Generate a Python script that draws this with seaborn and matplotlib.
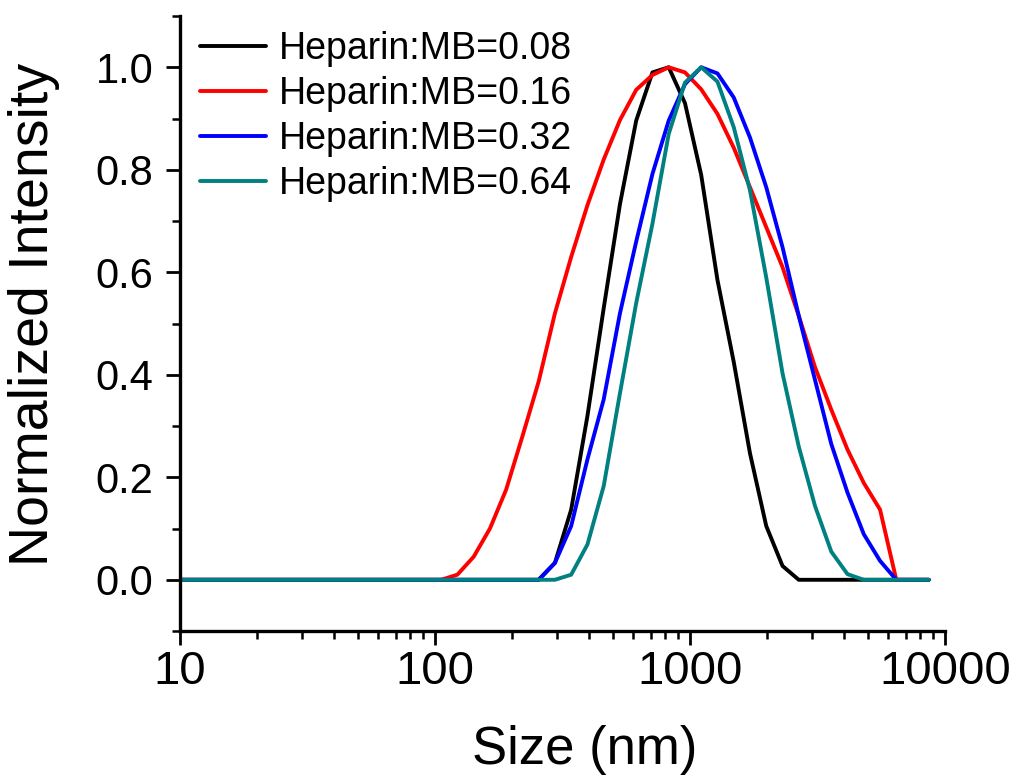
import seaborn as sns
import pandas as pd
import matplotlib.pyplot as plt
from matplotlib.ticker import MultipleLocator, LogLocator, NullFormatter

# DLS size bins (nm)
size_nm = [10.10, 11.70, 13.54, 15.69, 18.17, 21.04, 24.36, 28.21, 32.67, 37.84,
           43.82, 50.75, 58.77, 68.06, 78.82, 91.28, 105.7, 122.4, 141.8, 164.2,
           190.1, 220.2, 255.0, 295.3, 342.0, 396.1, 458.7, 531.2, 615.1, 712.4,
           825.0, 955.4, 1106, 1281, 1484, 1718, 1990, 2305, 2669, 3091,
           3580, 4145, 4801, 5560, 6439, 7456, 8635]

zeros_to_91 = [0.0] * 16

ratio_008 = zeros_to_91 + [0, 0, 0, 0, 0, 0, 0, 0.033, 0.137, 0.32, 0.53, 0.733, 0.896,
                           0.99, 1.0, 0.93, 0.79, 0.585, 0.425, 0.247, 0.105, 0.027, 0,
                           0, 0, 0, 0, 0, 0, 0, 0]
ratio_016 = zeros_to_91 + [0, 0.01, 0.045, 0.10, 0.176, 0.28, 0.387, 0.52, 0.63, 0.731,
                           0.82, 0.897, 0.956, 0.985, 1.0, 0.99, 0.957, 0.909, 0.843,
                           0.766, 0.688, 0.61, 0.515, 0.415, 0.332, 0.254, 0.189, 0.137,
                           0, 0, 0]
ratio_032 = zeros_to_91 + [0, 0, 0, 0, 0, 0, 0, 0.033, 0.105, 0.235, 0.352, 0.52, 0.66,
                           0.792, 0.896, 0.967, 1.0, 0.988, 0.941, 0.863, 0.766, 0.649,
                           0.515, 0.39, 0.265, 0.17, 0.089, 0.037, 0, 0, 0]
ratio_064 = zeros_to_91 + [0, 0, 0, 0, 0, 0, 0, 0, 0.01, 0.069, 0.183, 0.364, 0.54,
                           0.695, 0.87, 0.97, 1.0, 0.972, 0.883, 0.76, 0.59, 0.403,
                           0.26, 0.144, 0.055, 0.011, 0, 0, 0, 0, 0]

labels = ["Heparin:MB=0.08", "Heparin:MB=0.16", "Heparin:MB=0.32", "Heparin:MB=0.64"]
colors = ["#000000", "#ff0000", "#0000ff", "#008080"]

frames = []
for lab, vals in zip(labels, [ratio_008, ratio_016, ratio_032, ratio_064]):
    frames.append(pd.DataFrame({"Size": size_nm, "Intensity": vals, "Sample": lab}))
df = pd.concat(frames, ignore_index=True)

sns.set_theme(style="ticks")
plt.rcParams['font.family'] = ['Liberation Sans', 'DejaVu Sans']
plt.rcParams['text.color'] = 'black'
plt.rcParams['axes.labelcolor'] = 'black'
plt.rcParams['xtick.color'] = 'black'
plt.rcParams['ytick.color'] = 'black'

fig = plt.figure(figsize=(10.14, 7.81), dpi=100)
ax = fig.add_axes([0.1775, 0.192, 0.7545, 0.7875])

sns.lineplot(data=df, x="Size", y="Intensity", hue="Sample", palette=colors,
             linewidth=2.8, ax=ax, sort=False)

ax.set_xscale("log")
ax.set_xlim(10, 10000)
ax.set_ylim(-0.1, 1.1)
ax.set_yticks([0.0, 0.2, 0.4, 0.6, 0.8, 1.0])
ax.set_yticklabels(["0.0", "0.2", "0.4", "0.6", "0.8", "1.0"])
ax.yaxis.set_minor_locator(MultipleLocator(0.1))
ax.set_xticks([10, 100, 1000, 10000])
ax.set_xticklabels(["10", "100", "1000", "10000"])
ax.xaxis.set_minor_locator(LogLocator(base=10, subs=range(2, 10)))
ax.xaxis.set_minor_formatter(NullFormatter())

for side in ["top", "right"]:
    ax.spines[side].set_visible(False)
for side in ["left", "bottom"]:
    ax.spines[side].set_linewidth(2.4)
    ax.spines[side].set_color("black")

ax.tick_params(axis="both", which="major", direction="out", length=10, width=2.0)
ax.tick_params(axis="both", which="minor", direction="out", length=5.5, width=1.8)
ax.tick_params(axis="y", which="major", labelsize=30, pad=9)
ax.tick_params(axis="x", which="major", labelsize=34, pad=4)

ax.set_xlabel("Size (nm)", fontsize=38)
ax.set_ylabel("Normalized Intensity", fontsize=40)
ax.xaxis.set_label_coords(0.529, -0.152)
ax.yaxis.set_label_coords(-0.157, 0.514)

ax.legend(loc="upper left", bbox_to_anchor=(0.026, 0.975), frameon=False,
          fontsize=27, handlelength=1.75, handletextpad=0.35, labelspacing=0.24,
          borderpad=0, borderaxespad=0)

fig.savefig("out.png", dpi=100)
